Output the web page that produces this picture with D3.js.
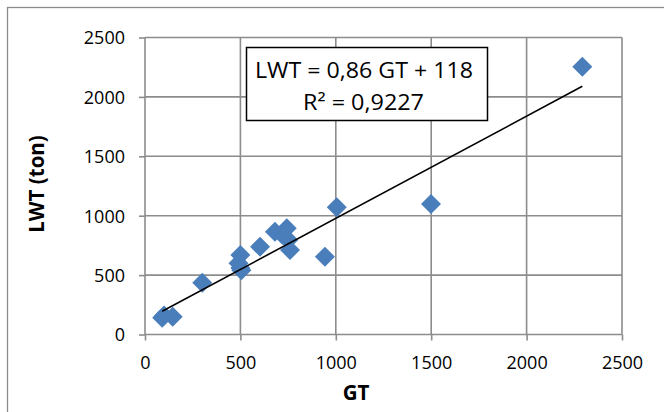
<!DOCTYPE html>
<html>
<head>
<meta charset="utf-8">
<script src="https://cdn.jsdelivr.net/npm/d3@7"></script>
<style>
  html, body { margin: 0; padding: 0; background: #fff; }
  svg { display: block; }
  text { font-family: "Open Sans", "Noto Sans", sans-serif; fill: #000; }
</style>
</head>
<body>
<svg id="chart" width="664" height="412"></svg>
<script>
// Data
const gt  = [90, 100, 145, 300, 500, 490, 500, 505, 603, 681, 720, 743, 751, 760, 943, 1005, 1499, 2292];
const lwt = [140, 160, 150, 436, 670, 600, 560, 540, 739, 865, 840, 894, 795, 711, 655, 1071, 1098, 2254];
const xTicks = [0, 500, 1000, 1500, 2000, 2500];
const yTicks = [0, 500, 1000, 1500, 2000, 2500];
const trendSlope = 0.86;
const trendIntercept = 118;
const eqLine1 = "LWT = 0,86 GT + 118";
const eqLine2 = "R² = 0,9227";
const xTitle = "GT";
const yTitle = "LWT (ton)";

const svg = d3.select("#chart");
const L = 145, R = 622, T = 37.5, B = 334.5;

const x = d3.scaleLinear().domain([0, 2500]).range([L, R]);
const y = d3.scaleLinear().domain([0, 2500]).range([B, T]);

// outer chart border
svg.append("rect")
  .attr("x", 7.5).attr("y", 7.5).attr("width", 720).attr("height", 500)
  .attr("fill", "none").attr("stroke", "#8c8c8c").attr("stroke-width", 1.3);

const gridColor = "#8c8c8c";

// x ticks
const xAxis = d3.axisBottom(x).tickValues(xTicks).tickSize(6).tickFormat(d3.format("d"));
const gx = svg.append("g").attr("transform", `translate(0,${B})`).call(xAxis);
gx.select(".domain").remove();
gx.selectAll("line").attr("stroke", gridColor).attr("stroke-width", 1.6);
gx.selectAll("text").attr("font-size", 18).attr("y", 0).attr("dy", 34).style("font-family", "'Open Sans'");

// y ticks
const yAxis = d3.axisLeft(y).tickValues(yTicks).tickSize(6).tickFormat(d3.format("d"));
const gy = svg.append("g").attr("transform", `translate(${L},0)`).call(yAxis);
gy.select(".domain").remove();
gy.selectAll("line").attr("stroke", gridColor).attr("stroke-width", 1.6);
gy.selectAll("text").attr("font-size", 18).attr("x", -20).attr("dy", "0.36em").style("font-family", "'Open Sans'");

// grid
const grid = svg.append("g");
grid.selectAll("line.v").data(xTicks).enter().append("line")
  .attr("x1", d => x(d)).attr("x2", d => x(d)).attr("y1", T).attr("y2", B)
  .attr("stroke", gridColor).attr("stroke-width", 1.6);
grid.selectAll("line.h").data(yTicks).enter().append("line")
  .attr("x1", L).attr("x2", R).attr("y1", d => y(d)).attr("y2", d => y(d))
  .attr("stroke", gridColor).attr("stroke-width", 1.6);

// points
const pts = gt.map((g, i) => ({ g, l: lwt[i] }));
const sym = d3.symbol().type(d3.symbolSquare).size(200);
svg.append("g").selectAll("path").data(pts).enter().append("path")
  .attr("d", sym)
  .attr("transform", d => `translate(${x(d.g)},${y(d.l)}) rotate(45)`)
  .attr("fill", "#4a7ebb");

// trendline
const gmin = d3.min(gt), gmax = d3.max(gt);
svg.append("line")
  .attr("x1", x(gmin)).attr("y1", y(trendSlope * gmin + trendIntercept))
  .attr("x2", x(gmax)).attr("y2", y(trendSlope * gmax + trendIntercept))
  .attr("stroke", "#000").attr("stroke-width", 1.6);

// equation box
svg.append("rect")
  .attr("x", 246.5).attr("y", 47.5).attr("width", 241).attr("height", 73)
  .attr("fill", "#fff").attr("stroke", "#000").attr("stroke-width", 1.5);
svg.append("text").attr("x", 255).attr("y", 78)
  .attr("font-size", 21).attr("textLength", 218).attr("lengthAdjust", "spacingAndGlyphs")
  .text(eqLine1);
svg.append("text").attr("x", 303).attr("y", 110)
  .attr("font-size", 21).attr("textLength", 121).attr("lengthAdjust", "spacingAndGlyphs")
  .text(eqLine2);

// axis titles
svg.append("text").attr("x", 356).attr("y", 400).attr("text-anchor", "middle")
  .attr("font-size", 20.5).attr("font-weight", "bold").text(xTitle);
svg.append("text").attr("transform", "translate(44,184) rotate(-90)")
  .attr("text-anchor", "middle").attr("font-size", 20.5).attr("font-weight", "bold").text(yTitle);
</script>
</body>
</html>
